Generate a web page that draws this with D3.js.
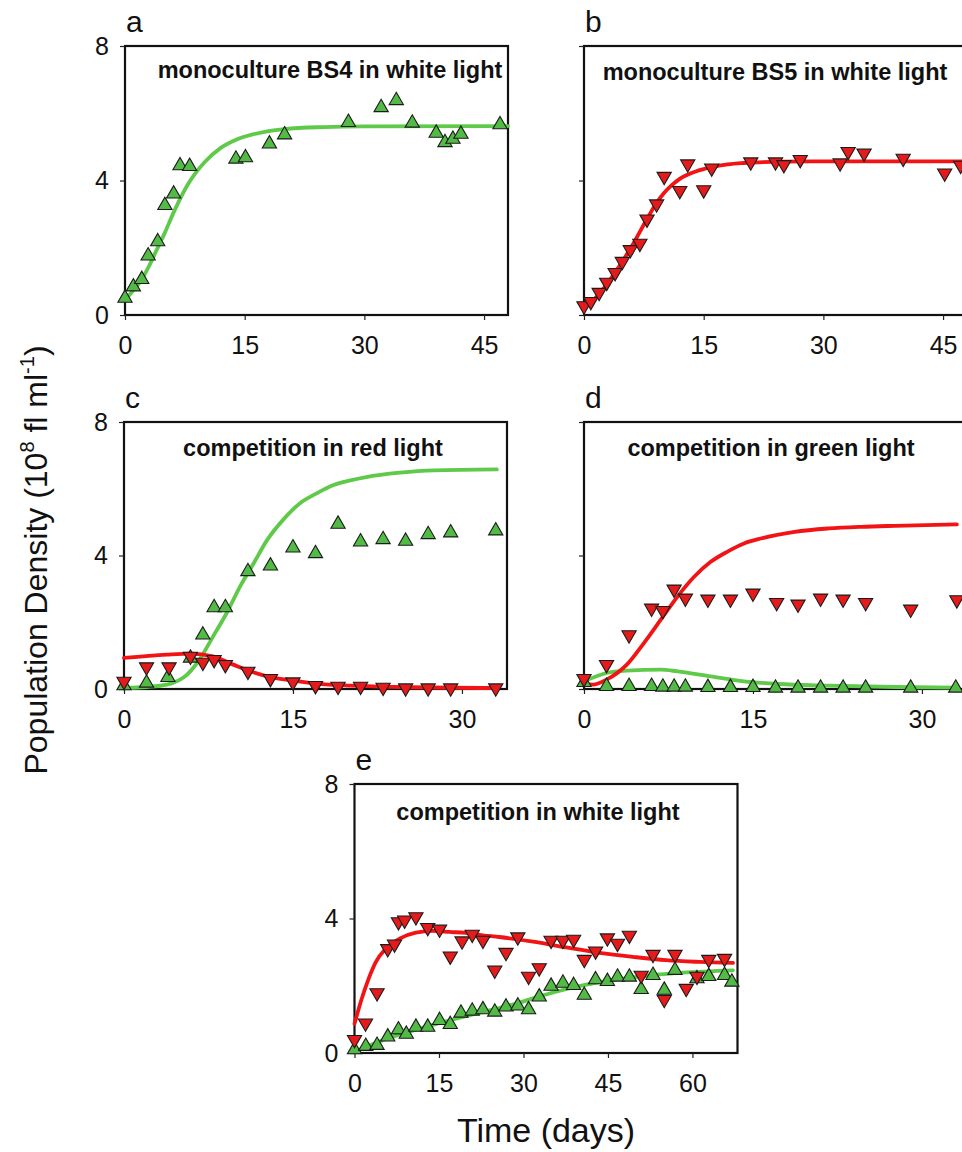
<!DOCTYPE html>
<html>
<head>
<meta charset="utf-8">
<script src="https://cdn.jsdelivr.net/npm/d3@7"></script>
<style>
  html, body { margin: 0; padding: 0; background: #fff; }
  svg { display: block; }
  text { font-family: "Liberation Sans", Arial, Helvetica, sans-serif; fill: #111; }
</style>
</head>
<body>
<svg id="chart" width="962" height="1152"></svg>
<script>
// ---------------- DATA (days, 10^8 fl/ml) ----------------
// Panel a: monoculture BS4 (green) in white light
const aGreenObs = [[0,0.50],[1.05,0.84],[2.1,1.06],[2.9,1.76],[4.1,2.18],[5.0,3.26],[6.1,3.60],[6.9,4.44],[8.1,4.42],
  [13.9,4.64],[15.1,4.68],[18.1,5.09],[20.0,5.36],[28.0,5.73],[32.1,6.17],[34.0,6.38],[36.0,5.71],[39.0,5.41],
  [40.1,5.13],[41.1,5.23],[42.1,5.38],[47.0,5.66]];
const aGreenFit = [[0,0.45],[1,0.72],[2,1.02],[3,1.45],[4,1.95],[5,2.45],[6,3.00],[7,3.50],[8,3.93],[9,4.27],
  [10,4.55],[12,4.97],[14,5.22],[16,5.37],[18,5.47],[20,5.53],[25,5.59],[30,5.61],[48,5.62]];

// Panel b: monoculture BS5 (red) in white light
const bRedObs = [[0,0.27],[0.85,0.40],[1.9,0.67],[2.85,0.97],[3.9,1.26],[4.8,1.59],[5.8,1.94],[7.0,2.13],[7.9,2.85],
  [9.1,3.30],[10.05,4.12],[12.0,3.70],[13.0,4.49],[15.0,3.72],[16.0,4.37],[20.9,4.55],[24.0,4.55],[25.05,4.47],
  [27.1,4.62],[32.1,4.52],[33.1,4.86],[35.1,4.81],[40.0,4.66],[45.2,4.22],[47.2,4.45]];
const bRedFit = [[0,0.20],[2,0.65],[4,1.30],[6,2.05],[8,2.90],[9,3.30],[10,3.62],[11,3.86],[12,4.05],[14,4.27],
  [16,4.40],[18,4.48],[20,4.52],[25,4.56],[30,4.57],[48,4.57]];

// Panel c: competition in red light
const cGreenObs = [[0,0.10],[2.0,0.18],[3.9,0.35],[5.9,0.93],[7.0,1.62],[8.0,2.44],[9.0,2.44],[11.0,3.52],[13.0,3.69],
  [15.0,4.23],[17.0,4.06],[19.0,4.94],[21.0,4.41],[23.0,4.48],[25.0,4.43],[27.0,4.63],[29.0,4.68],[33.0,4.74]];
const cRedObs = [[0,0.23],[2.0,0.66],[4.0,0.66],[5.9,0.98],[7.0,0.80],[8.0,0.88],[9.0,0.73],[11.0,0.53],[13.0,0.31],
  [15.0,0.21],[17.0,0.10],[19.0,0.08],[21.0,0.08],[23.0,0.05],[25.0,0.03],[27.0,0.03],[29.0,0.03],[33.0,0.03]];
const cGreenFit = [[0,0.03],[2,0.06],[3.8,0.13],[5.6,0.43],[6.7,0.88],[7.9,1.57],[9.1,2.27],[10.3,3.07],[11.5,3.76],
  [12.7,4.46],[14.1,5.06],[15.6,5.56],[17.1,5.86],[18.6,6.11],[20.1,6.25],[21.5,6.35],[24.5,6.48],[27.5,6.55],[33.1,6.58]];
const cRedFit = [[0,0.93],[3.8,1.03],[5.9,1.06],[7.9,0.98],[9.7,0.73],[11.2,0.53],[12.7,0.38],[14.4,0.28],
  [17.1,0.16],[20.1,0.10],[24.5,0.06],[33.1,0.03]];

// Panel d: competition in green light
const dRedObs = [[0,0.31],[2.0,0.73],[4.0,1.62],[6.0,2.42],[7.0,2.35],[8.0,2.99],[9.0,2.72],[11.0,2.69],[13.0,2.69],
  [15.0,2.87],[17.1,2.59],[19.0,2.54],[21.0,2.72],[23.0,2.69],[25.0,2.59],[29.0,2.39],[33.1,2.67]];
const dGreenObs = [[0,0.20],[2,0.08],[4,0.08],[6,0.08],[7,0.06],[8,0.06],[9,0.06],[11,0.05],[13,0.05],[15,0.05],
  [17,0.03],[19,0.03],[21,0.03],[23,0.03],[25,0.03],[29,0.03],[33,0.03]];
const dRedFit = [[0,0.16],[0.8,0.13],[2,0.28],[3.8,0.73],[5.3,1.37],[6.8,2.07],[8.3,2.77],[9.8,3.37],[11.25,3.81],
  [12.7,4.11],[14.2,4.36],[15.7,4.51],[18.7,4.71],[21.7,4.81],[24.6,4.86],[27.6,4.89],[33.1,4.93]];
const dGreenFit = [[0,0.23],[2,0.48],[3.8,0.55],[6.8,0.58],[8.3,0.53],[11.25,0.38],[14.2,0.23],[17.2,0.15],
  [21.7,0.10],[27.6,0.06],[33.1,0.04]];

// Panel e: competition in white light
const eRedObs = [[0,0.40],[1.95,0.89],[4.0,1.79],[5.9,3.10],[7.1,3.24],[7.8,3.90],[8.9,3.95],[10.9,4.05],[13.0,3.73],
  [15.1,3.68],[17.0,2.88],[19.1,3.33],[20.9,3.53],[22.8,3.35],[24.9,2.46],[26.9,2.99],[29.0,3.45],[30.9,2.28],
  [32.8,2.53],[34.9,3.35],[37.0,3.35],[38.9,3.38],[40.8,2.78],[42.8,3.03],[44.9,3.42],[46.7,3.26],[48.8,3.50],
  [50.9,2.31],[53.0,2.93],[55.0,1.59],[56.9,2.93],[58.9,1.92],[60.8,2.28],[62.9,2.78],[65.7,2.81]];
const eGreenObs = [[0,0.10],[2,0.20],[4,0.23],[5.9,0.48],[7.8,0.69],[9.2,0.56],[10.9,0.77],[13,0.77],[15.1,0.97],
  [17,0.85],[18.9,1.19],[20.9,1.25],[22.8,1.29],[24.9,1.22],[26.9,1.37],[29,1.40],[30.9,1.29],[32.8,1.67],
  [34.9,1.99],[37,2.08],[38.9,2.01],[40.8,1.72],[42.8,2.18],[44.9,2.13],[46.7,2.26],[48.8,2.26],[50.9,1.89],
  [53,2.31],[55,1.87],[56.9,2.46],[60.8,2.21],[62.9,2.28],[65.7,2.31],[67,2.11]];
const eRedFit = [[0,0.87],[1.2,1.57],[2.4,2.16],[3.8,2.71],[5.6,3.11],[8,3.40],[10.9,3.58],[13.9,3.63],[16.9,3.60],
  [19.8,3.57],[22.8,3.50],[25.7,3.45],[31.7,3.31],[37.6,3.14],[43.5,2.98],[49.4,2.86],[55.3,2.76],[61.2,2.71],[67.2,2.68]];
const eGreenFit = [[0,0.03],[5,0.38],[10.9,0.69],[16.9,0.97],[22.8,1.22],[28.7,1.47],[34.6,1.77],[40.5,2.01],
  [46.4,2.18],[52.4,2.31],[58.3,2.39],[67.2,2.46]];

const yTicks = [0, 4, 8];
const xTicksLong = [0, 15, 30, 45];
const xTicksShort = [0, 15, 30];
const xTicksE = [0, 15, 30, 45, 60];

const titles = {
  a: "monoculture BS4 in white light",
  b: "monoculture BS5 in white light",
  c: "competition in red light",
  d: "competition in green light",
  e: "competition in white light"
};

// ---------------- STYLE ----------------
const GREEN_LINE = "#5fc94a", RED_LINE = "#f21414";
const GREEN_FILL = "#52bb45", RED_FILL = "#e51b1b";
const MARK_STROKE = "#1b1b1b";

const svg = d3.select("#chart");

const panels = [
  { id: "a", left: 125, top: 46, w: 383, h: 269, xMax: 48, xTicks: xTicksLong, yLabels: true, titleX: 330, titleY: 78,
    series: [{ fit: aGreenFit, obs: aGreenObs, sp: "g" }] },
  { id: "b", left: 584, top: 46, w: 383, h: 269, xMax: 48, xTicks: xTicksLong, yLabels: false, titleX: 775, titleY: 80,
    series: [{ fit: bRedFit, obs: bRedObs, sp: "r" }] },
  { id: "c", left: 124, top: 422, w: 383, h: 267, xMax: 34, xTicks: xTicksShort, yLabels: true, titleX: 313, titleY: 456,
    series: [{ fit: cGreenFit, obs: cGreenObs, sp: "g" }, { fit: cRedFit, obs: cRedObs, sp: "r" }] },
  { id: "d", left: 584, top: 422, w: 383, h: 267, xMax: 34, xTicks: xTicksShort, yLabels: false, titleX: 771, titleY: 456,
    series: [{ fit: dGreenFit, obs: dGreenObs, sp: "g" }, { fit: dRedFit, obs: dRedObs, sp: "r" }] },
  { id: "e", left: 354.5, top: 784, w: 383, h: 269, xMax: 68, xTicks: xTicksE, yLabels: true, titleX: 538, titleY: 820,
    series: [{ fit: eGreenFit, obs: eGreenObs, sp: "g" }, { fit: eRedFit, obs: eRedObs, sp: "r" }] }
];

const triUp = d3.symbol().type(d3.symbolTriangle).size(88);

panels.forEach(p => {
  const g = svg.append("g").attr("transform", `translate(${p.left},${p.top})`);
  const x = d3.scaleLinear().domain([0, p.xMax]).range([0, p.w]);
  const y = d3.scaleLinear().domain([0, 8]).range([p.h, 0]);

  // frame
  g.append("rect").attr("x", 0).attr("y", 0).attr("width", p.w).attr("height", p.h)
    .attr("fill", "none").attr("stroke", "#111").attr("stroke-width", 2.2);

  // x axis
  const xAx = g.append("g").attr("transform", `translate(0,${p.h})`)
    .call(d3.axisBottom(x).tickValues(p.xTicks).tickSize(5).tickPadding(10).tickFormat(d3.format("d")));
  xAx.select(".domain").remove();
  xAx.selectAll("line").attr("stroke", "#222").attr("stroke-width", 1.2);
  xAx.selectAll("text").attr("font-size", 25).attr("fill", "#111")
    .attr("font-family", '"Liberation Sans", Arial, sans-serif').attr("dy", "0.95em");

  // y axis
  const yAx = g.append("g")
    .call(d3.axisLeft(y).tickValues(yTicks).tickSize(5).tickPadding(11).tickFormat(p.yLabels ? d3.format("d") : () => ""));
  yAx.select(".domain").remove();
  yAx.selectAll("line").attr("stroke", "#222").attr("stroke-width", 1.2);
  yAx.selectAll("text").attr("font-size", 25).attr("fill", "#111")
    .attr("font-family", '"Liberation Sans", Arial, sans-serif');

  // title
  g.append("text").attr("x", p.titleX - p.left).attr("y", p.titleY - p.top)
    .attr("text-anchor", "middle").attr("font-size", 23.5).attr("font-weight", "bold")
    .text(titles[p.id]);

  // panel letter
  svg.append("text").attr("x", p.left + 1).attr("y", p.top - 14)
    .attr("font-size", 30).text(p.id);

  const line = d3.line().x(d => x(d[0])).y(d => y(d[1])).curve(d3.curveMonotoneX);

  // fitted curves
  p.series.forEach(s => {
    g.append("path").datum(s.fit).attr("d", line).attr("fill", "none")
      .attr("stroke", s.sp === "g" ? GREEN_LINE : RED_LINE)
      .attr("stroke-width", 3.8).attr("stroke-linecap", "round").attr("stroke-linejoin", "round");
  });

  // observations
  p.series.forEach(s => {
    g.append("g").selectAll("path").data(s.obs).join("path")
      .attr("d", triUp)
      .attr("transform", d => `translate(${x(d[0])},${y(d[1])})` + (s.sp === "r" ? " rotate(180)" : ""))
      .attr("fill", s.sp === "g" ? GREEN_FILL : RED_FILL)
      .attr("stroke", MARK_STROKE).attr("stroke-width", 1.1);
  });
});

// shared axis titles
const yTitle = svg.append("text")
  .attr("transform", "translate(47,560) rotate(-90)")
  .attr("text-anchor", "middle").attr("font-size", 32);
yTitle.append("tspan").text("Population Density (10");
yTitle.append("tspan").text("8").attr("font-size", 20).attr("dy", -13);
yTitle.append("tspan").text(" fl ml").attr("dy", 13);
yTitle.append("tspan").text("-1").attr("font-size", 20).attr("dy", -13);
yTitle.append("tspan").text(")").attr("dy", 13);

svg.append("text").attr("x", 546).attr("y", 1142).attr("text-anchor", "middle")
  .attr("font-size", 34).text("Time (days)");
</script>
</body>
</html>
